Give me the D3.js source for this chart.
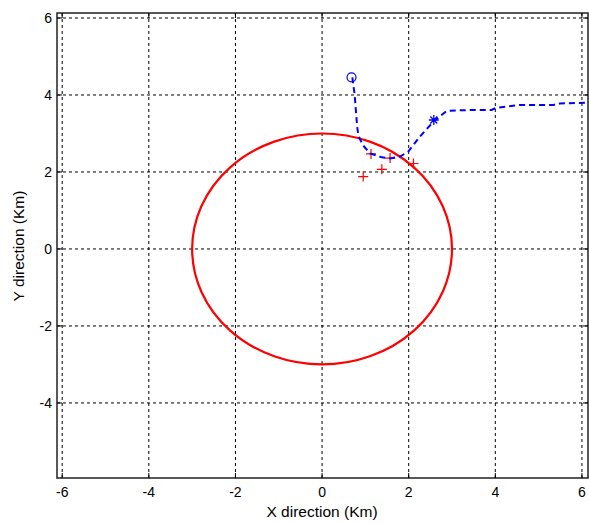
<!DOCTYPE html>
<html><head><meta charset="utf-8">
<script src="https://cdn.jsdelivr.net/npm/d3@7"></script>
<style>body{margin:0;background:#fff}text{font-family:"Liberation Sans",Arial,sans-serif}</style>
</head><body><svg id="c" width="589" height="523"></svg>
<script>
const xTicks=[-6,-4,-2,0,2,4,6];
const yTicks=[-4,-2,0,2,4,6];
const xDomain=[-6.12,6.14];
const yDomain=[-5.95,6.13];
const circleCenter=[0,0];
const circleRadius=3;
const pathX=[0.70,0.72,0.75,0.78,0.81,0.84,0.94,1.11,1.38,1.57,1.80,1.99,2.26,2.59,2.88,3.42,3.91,4.03,4.57,5.34,5.49,6.14];
const pathY=[4.46,4.26,4.04,3.61,3.18,2.94,2.70,2.48,2.38,2.35,2.40,2.53,2.92,3.33,3.59,3.61,3.61,3.67,3.74,3.74,3.78,3.80];
const startPt=[0.68,4.46];
const starPt=[2.58,3.35];
const plusX=[0.95,1.38,1.13,1.57,2.11];
const plusY=[1.88,2.07,2.47,2.36,2.22];

const svg=d3.select("#c");
const L=57,R=588,T=13,B=478;
const x=d3.scaleLinear().domain(xDomain).range([L,R]);
const y=d3.scaleLinear().domain(yDomain).range([B,T]);

const g=svg.append("g");
g.selectAll(".gx").data(xTicks).join("line").attr("x1",d=>x(d)).attr("x2",d=>x(d)).attr("y1",T).attr("y2",B)
 .attr("stroke","#000").attr("stroke-width",1).attr("stroke-dasharray","3,3");
g.selectAll(".gy").data(yTicks).join("line").attr("y1",d=>y(d)).attr("y2",d=>y(d)).attr("x1",L).attr("x2",R)
 .attr("stroke","#000").attr("stroke-width",1).attr("stroke-dasharray","3,3");

svg.append("clipPath").attr("id","cl").append("rect").attr("x",L).attr("y",T).attr("width",R-L).attr("height",B-T);
const p=svg.append("g").attr("clip-path","url(#cl)");

p.append("ellipse").attr("cx",x(circleCenter[0])).attr("cy",y(circleCenter[1]))
 .attr("rx",x(circleRadius)-x(0)).attr("ry",y(0)-y(circleRadius))
 .attr("fill","none").attr("stroke","#f00").attr("stroke-width",2.2);

const pl=d3.range(plusX.length);
p.selectAll(".pl").data(pl).join("path")
 .attr("d",i=>{const cx=x(plusX[i]),cy=y(plusY[i]);return `M${cx-5},${cy}H${cx+5}M${cx},${cy-5}V${cy+5}`;})
 .attr("stroke","#f00").attr("stroke-width",1.2).attr("fill","none");

const line=d3.line().x(i=>x(pathX[i])).y(i=>y(pathY[i]));
p.append("path").attr("d",line(d3.range(pathX.length))).attr("fill","none")
 .attr("stroke","#0000ff").attr("stroke-width",2).attr("stroke-dasharray","6,4");

p.append("circle").attr("cx",x(startPt[0])).attr("cy",y(startPt[1])).attr("r",4.5)
 .attr("fill","none").attr("stroke","#0000ff").attr("stroke-width",1.2);
const sx=x(starPt[0]),sy=y(starPt[1]);
p.append("path").attr("d",`M${sx-5},${sy}H${sx+5}M${sx},${sy-5}V${sy+5}M${sx-3.5},${sy-3.5}L${sx+3.5},${sy+3.5}M${sx-3.5},${sy+3.5}L${sx+3.5},${sy-3.5}`)
 .attr("stroke","#0000ff").attr("stroke-width",1.3);

svg.append("rect").attr("x",L).attr("y",T).attr("width",R-L).attr("height",B-T).attr("fill","none").attr("stroke","#222").attr("stroke-width",1.5);
svg.selectAll(".tx").data(xTicks).join("path").attr("d",d=>`M${x(d)},${B}v-5M${x(d)},${T}v5`).attr("stroke","#000");
svg.selectAll(".ty").data(yTicks).join("path").attr("d",d=>`M${L},${y(d)}h5M${R},${y(d)}h-5`).attr("stroke","#000");

svg.selectAll(".lx").data(xTicks).join("text").attr("x",d=>x(d)).attr("y",497).attr("text-anchor","middle")
 .attr("font-size",14).text(d=>d);
svg.selectAll(".ly").data(yTicks).join("text").attr("x",52).attr("y",d=>y(d)+5).attr("text-anchor","end")
 .attr("font-size",14).text(d=>d);

svg.append("text").attr("x",322).attr("y",517).attr("text-anchor","middle").attr("font-size",15.5).text("X direction (Km)");
svg.append("text").attr("transform","translate(24,246) rotate(-90)").attr("text-anchor","middle").attr("font-size",15.5).text("Y direction (Km)");
</script></body></html>
